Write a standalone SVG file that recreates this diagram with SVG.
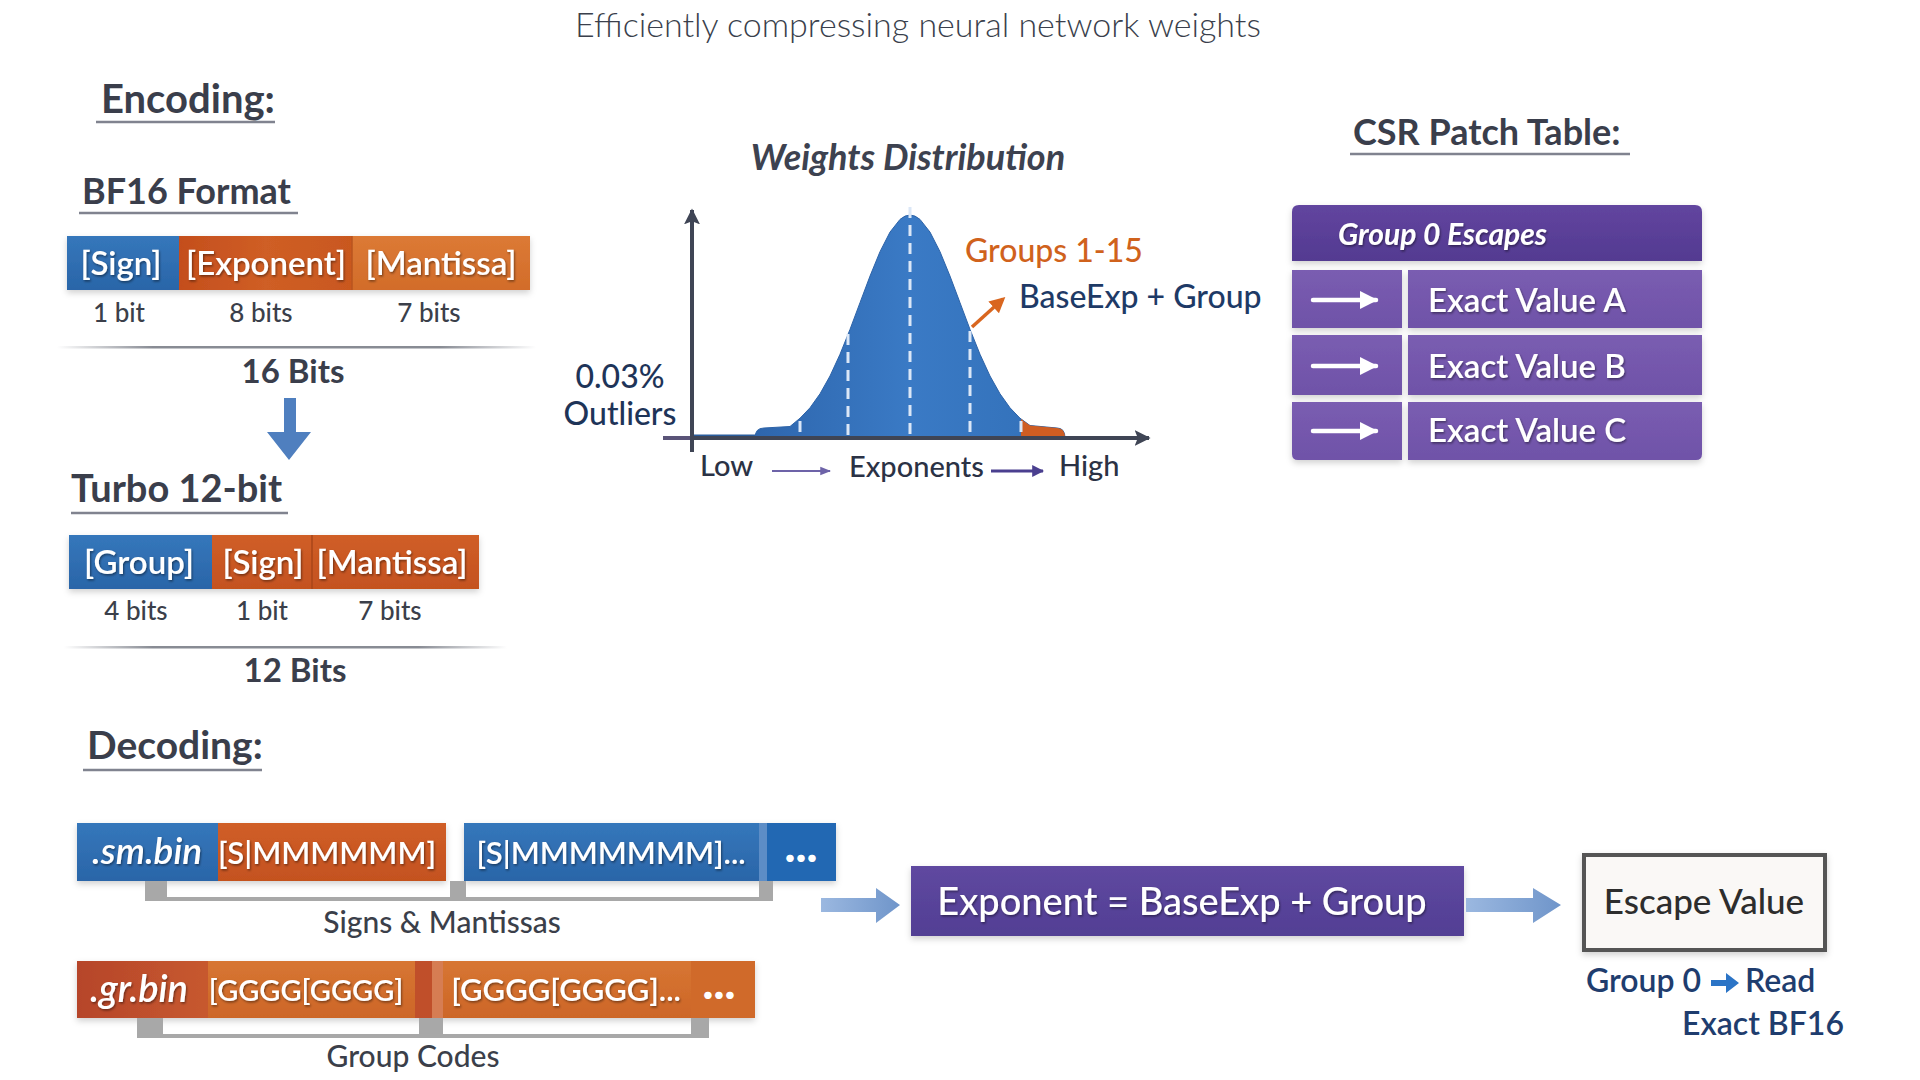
<svg xmlns="http://www.w3.org/2000/svg" width="1920" height="1080" viewBox="0 0 1920 1080">
<defs>
<style>
text{font-family:Lato,'Open Sans','Noto Sans',sans-serif}
.h{font-weight:700;fill:#3a3e4b}
.ul{stroke:#80838f;stroke-width:2.5}
.lbl{font-size:26px;font-weight:500;fill:#3b3f4a;text-anchor:middle}
.tot{font-size:33px;font-weight:700;fill:#3a3e4b;text-anchor:middle}
.bt{font-size:33px;font-weight:600;fill:#fff;text-anchor:middle;filter:url(#ts)}
.ft{font-size:31px;font-weight:600;fill:#fff;text-anchor:middle;filter:url(#ts)}
.ft.sm{font-size:29px}
.fn{font-size:37px;font-weight:600;font-style:italic;fill:#fff;filter:url(#ts)}
.fn.lg{font-size:38px}
.dots{font-size:46px;font-weight:900;fill:#fff;text-anchor:middle}
.rowt{font-size:33px;font-weight:600;fill:#fff;filter:url(#ts)}
.cap{font-size:30px;font-weight:500;fill:#3b3f4a;text-anchor:middle}
.ax{font-size:29px;font-weight:500;fill:#2b3245}
.brk{fill:#a8a8a8}
.row{fill:url(#gRow)}
.darr{fill:url(#gArr)}
</style>
<filter id="ts" x="-10%" y="-20%" width="120%" height="140%"><feDropShadow dx="1" dy="1.5" stdDeviation="0.8" flood-color="#000" flood-opacity="0.45"/></filter>
<filter id="sh" x="-5%" y="-10%" width="110%" height="130%"><feDropShadow dx="0" dy="3" stdDeviation="3" flood-color="#000" flood-opacity="0.18"/></filter>
<linearGradient id="gBlue" x1="0" y1="0" x2="0" y2="1"><stop offset="0" stop-color="#3577bb"/><stop offset="1" stop-color="#2a65a8"/></linearGradient>
<linearGradient id="gExp" x1="0" y1="0" x2="1" y2="0"><stop offset="0" stop-color="#c44e1d"/><stop offset="0.5" stop-color="#cf5e25"/><stop offset="1" stop-color="#c9581f"/></linearGradient>
<linearGradient id="gMan" x1="0" y1="0" x2="0" y2="1"><stop offset="0" stop-color="#dc7a35"/><stop offset="1" stop-color="#d26c2a"/></linearGradient>
<linearGradient id="gOr2" x1="0" y1="0" x2="0" y2="1"><stop offset="0" stop-color="#d05e27"/><stop offset="1" stop-color="#c4521f"/></linearGradient>
<linearGradient id="gGr" x1="0" y1="0" x2="0" y2="1"><stop offset="0" stop-color="#d77632"/><stop offset="1" stop-color="#cd6628"/></linearGradient>
<linearGradient id="gGrb" x1="0" y1="0" x2="1" y2="0"><stop offset="0" stop-color="#b6452b"/><stop offset="1" stop-color="#c7592e"/></linearGradient>
<linearGradient id="gRow" x1="0" y1="0" x2="0" y2="1"><stop offset="0" stop-color="#7a5db1"/><stop offset="1" stop-color="#6f52a8"/></linearGradient>
<linearGradient id="gHead" x1="0" y1="0" x2="0" y2="1"><stop offset="0" stop-color="#62459f"/><stop offset="1" stop-color="#533a91"/></linearGradient>
<linearGradient id="gExpBox" x1="0" y1="0" x2="0" y2="1"><stop offset="0" stop-color="#5f48a0"/><stop offset="1" stop-color="#523f94"/></linearGradient>
<linearGradient id="gArr" x1="0" y1="0" x2="1" y2="0"><stop offset="0" stop-color="#9bb8e0"/><stop offset="1" stop-color="#6f95ca"/></linearGradient>
<linearGradient id="gBell" x1="0" y1="0" x2="1" y2="0"><stop offset="0" stop-color="#2e66ad"/><stop offset="0.5" stop-color="#3a7ac5"/><stop offset="1" stop-color="#3270b8"/></linearGradient>
<linearGradient id="gSep" x1="0" y1="0" x2="1" y2="0"><stop offset="0" stop-color="#555a66" stop-opacity="0"/><stop offset="0.2" stop-color="#555a66" stop-opacity="0.7"/><stop offset="0.8" stop-color="#555a66" stop-opacity="0.7"/><stop offset="1" stop-color="#555a66" stop-opacity="0"/></linearGradient>
<marker id="mOr" viewBox="0 0 10 10" refX="8" refY="5" markerWidth="4.5" markerHeight="4.5" orient="auto"><path d="M0,0 L10,5 L0,10 Z" fill="#d9661f"/></marker>
<marker id="mAx" viewBox="0 0 10 10" refX="9" refY="5" markerWidth="4" markerHeight="4" orient="auto"><path d="M0,0 L10,5 L0,10 L2,5 Z" fill="#3f4555"/></marker>
<marker id="mThin" viewBox="0 0 10 10" refX="9" refY="5" markerWidth="6" markerHeight="6" orient="auto"><path d="M0,1 L10,5 L0,9 Z" fill="#6d63a8"/></marker>
<marker id="mThick" viewBox="0 0 10 10" refX="9" refY="5" markerWidth="4" markerHeight="4" orient="auto"><path d="M0,0 L10,5 L0,10 Z" fill="#4a3f8f"/></marker>
<marker id="mW" viewBox="0 0 10 10" refX="9" refY="5" markerWidth="4" markerHeight="4" orient="auto"><path d="M0,0 L10,5 L0,10 Z" fill="#fff"/></marker>
</defs>
<rect x="0" y="0" width="1920" height="1080" fill="#ffffff"/>

<text x="918" y="37" font-size="34" font-weight="300" fill="#3a3f4c" text-anchor="middle">Efficiently compressing neural network weights</text>

<!-- Encoding -->
<g id="encoding-title">
<text class="h" x="101" y="113" font-size="40">Encoding:</text>
<line class="ul" x1="96" y1="122" x2="275" y2="122"/>
</g>

<g id="bf16">
<text class="h" x="82" y="204" font-size="36">BF16 Format</text>
<line class="ul" x1="79" y1="213" x2="298" y2="213"/>
<g filter="url(#sh)">
<rect x="67" y="236" width="112" height="54" fill="url(#gBlue)"/>
<rect x="179" y="236" width="173" height="54" fill="url(#gExp)"/>
<rect x="352" y="236" width="178" height="54" fill="url(#gMan)"/>
</g>
<line x1="352" y1="236" x2="352" y2="290" stroke="#b9541f" stroke-width="1.5"/>
<text class="bt" x="121" y="275">[Sign]</text>
<text class="bt" x="266" y="275">[Exponent]</text>
<text class="bt" x="441" y="275">[Mantissa]</text>
<text class="lbl" x="119" y="322">1 bit</text>
<text class="lbl" x="261" y="322">8 bits</text>
<text class="lbl" x="429" y="322">7 bits</text>
<rect x="57" y="346" width="479" height="2.5" fill="url(#gSep)"/>
<text class="tot" x="293" y="383">16 Bits</text>
</g>

<g id="arrow-down">
<path d="M284,398 H296 V432 H311 L289,460 L267,432 H284 Z" fill="#4f7fbf"/>
</g>

<g id="turbo">
<text class="h" x="71" y="502" font-size="38">Turbo 12-bit</text>
<line class="ul" x1="71" y1="513" x2="288" y2="513"/>
<g filter="url(#sh)">
<rect x="69" y="535" width="143" height="54" fill="url(#gBlue)"/>
<rect x="212" y="535" width="100" height="54" fill="url(#gOr2)"/>
<rect x="312" y="535" width="167" height="54" fill="url(#gOr2)"/>
</g>
<line x1="312" y1="535" x2="312" y2="589" stroke="#a9461a" stroke-width="1.5"/>
<text class="bt" x="139" y="574">[Group]</text>
<text class="bt" x="263" y="574">[Sign]</text>
<text class="bt" x="392" y="574">[Mantissa]</text>
<text class="lbl" x="136" y="620">4 bits</text>
<text class="lbl" x="262" y="620">1 bit</text>
<text class="lbl" x="390" y="620">7 bits</text>
<rect x="64" y="646" width="443" height="2.5" fill="url(#gSep)"/>
<text class="tot" x="295" y="682">12 Bits</text>
</g>

<!-- Weights distribution -->
<g id="distribution">
<text x="908" y="170" font-size="36" font-weight="700" font-style="italic" fill="#3d4250" text-anchor="middle">Weights Distribution</text>
<line x1="663" y1="438" x2="692" y2="438" stroke="#5a5478" stroke-width="4"/>
<line x1="692" y1="436" x2="756" y2="436" stroke="#2a5d9c" stroke-width="3"/>
<path d="M755,438 Q755,428 764,428 L790,426.5 L800,418.2 L810,407.8 L820,393.8 L830,376 L840,354.3 L850,329.4 L860,302.7 L870,276.1 L880,251.7 L890,232.1 L900,219.4 Q910,210.7 920,219.4 L930,232.1 L940,251.7 L950,276.1 L960,302.7 L970,329.4 L980,354.3 L990,376 L1000,393.8 L1010,407.8 L1020,418.2 L1030,425.5 L1057,428 Q1065,428 1065,438 Z" fill="url(#gBell)" stroke="#2d63a8" stroke-width="1" stroke-linejoin="round"/>
<path d="M1021,438 L1021,419 L1030,425.5 L1057,428 Q1065,428 1065,438 Z" fill="#cf5d22"/>
<g stroke="#dbe7f7" stroke-width="3" stroke-dasharray="11 7" fill="none">
<line x1="910" y1="207" x2="910" y2="436"/>
<line x1="848" y1="334" x2="848" y2="436"/>
<line x1="970" y1="331" x2="970" y2="436"/>
<line x1="800" y1="421" x2="800" y2="436"/>
<line x1="1021" y1="421" x2="1021" y2="436"/>
</g>
<line x1="692" y1="452" x2="692" y2="210" stroke="#3f4555" stroke-width="4" marker-end="url(#mAx)"/>
<line x1="692" y1="438" x2="1149" y2="438" stroke="#3f4555" stroke-width="4" marker-end="url(#mAx)"/>
<line x1="972" y1="327" x2="1003" y2="299" stroke="#d9661f" stroke-width="3.5" marker-end="url(#mOr)"/>
<text x="965" y="262" font-size="32" font-weight="500" fill="#d0621c">Groups 1-15</text>
<text x="1019" y="308" font-size="32" font-weight="500" fill="#1e3a66">BaseExp + Group</text>
<text x="620" y="388" font-size="32" font-weight="500" fill="#1e3458" text-anchor="middle">0.03%</text>
<text x="620" y="425" font-size="32" font-weight="500" fill="#1e3458" text-anchor="middle">Outliers</text>
<text class="ax" x="700" y="476">Low</text>
<line x1="772" y1="471" x2="830" y2="471" stroke="#6d63a8" stroke-width="1.8" marker-end="url(#mThin)"/>
<text class="ax" x="849" y="477">Exponents</text>
<line x1="991" y1="471" x2="1043" y2="471" stroke="#4a3f8f" stroke-width="3" marker-end="url(#mThick)"/>
<text class="ax" x="1059" y="476">High</text>
</g>

<!-- CSR Patch Table -->
<g id="csr-title">
<text class="h" x="1353" y="145" font-size="36">CSR Patch Table:</text>
<line class="ul" x1="1350" y1="154" x2="1630" y2="154"/>
</g>
<g id="csr-table" filter="url(#sh)">
<path d="M1292,212 Q1292,205 1299,205 H1695 Q1702,205 1702,212 V261 H1292 Z" fill="url(#gHead)"/>
<text x="1338" y="245" font-size="30" font-weight="700" font-style="italic" fill="#fff" filter="url(#ts)">Group 0 Escapes</text>
<rect class="row" x="1292" y="270" width="110" height="58"/>
<rect class="row" x="1408" y="270" width="294" height="58"/>
<rect class="row" x="1292" y="335" width="110" height="60"/>
<rect class="row" x="1408" y="335" width="294" height="60"/>
<path class="row" d="M1292,402 H1402 V460 H1298 Q1292,460 1292,454 Z"/>
<path class="row" d="M1408,402 H1702 V454 Q1702,460 1696,460 H1408 Z"/>
<g stroke="#fff" stroke-width="4.5" stroke-linecap="round">
<line x1="1313" y1="300" x2="1376" y2="300" marker-end="url(#mW)"/>
<line x1="1313" y1="366" x2="1376" y2="366" marker-end="url(#mW)"/>
<line x1="1313" y1="431" x2="1376" y2="431" marker-end="url(#mW)"/>
</g>
<text class="rowt" x="1428" y="312">Exact Value A</text>
<text class="rowt" x="1428" y="378">Exact Value B</text>
<text class="rowt" x="1428" y="442">Exact Value C</text>
</g>

<!-- Decoding -->
<g id="decoding-title">
<text class="h" x="87" y="759" font-size="39">Decoding:</text>
<line class="ul" x1="83" y1="770" x2="262" y2="770"/>
</g>

<g id="sm-bin">
<g filter="url(#sh)">
<rect x="77" y="823" width="141" height="58" fill="url(#gBlue)"/>
<rect x="218" y="823" width="228" height="58" fill="url(#gOr2)"/>
<rect x="464" y="823" width="295" height="58" fill="url(#gBlue)"/>
<rect x="759" y="823" width="8" height="58" fill="#5d8dc6"/>
<rect x="767" y="823" width="69" height="58" fill="#2467b3"/>
</g>
<text class="fn" x="92" y="864">.sm.bin</text>
<text class="ft" x="327" y="864">[S|MMMMMM]</text>
<text class="ft" x="611" y="864">[S|MMMMMMM]...</text>
<text class="dots" x="801" y="862">...</text>
<rect class="brk" x="145" y="881" width="22" height="20"/>
<rect class="brk" x="450" y="881" width="16" height="20"/>
<rect class="brk" x="759" y="881" width="14" height="20"/>
<rect class="brk" x="145" y="897" width="628" height="4"/>
<text class="cap" x="442" y="933">Signs &amp; Mantissas</text>
</g>

<g id="gr-bin">
<g filter="url(#sh)">
<rect x="77" y="961" width="131" height="57" fill="url(#gGrb)"/>
<rect x="208" y="961" width="207" height="57" fill="url(#gGr)"/>
<rect x="415" y="961" width="17" height="57" fill="#c0502b"/>
<rect x="432" y="961" width="11" height="57" fill="#d67d52"/>
<rect x="443" y="961" width="248" height="57" fill="url(#gGr)"/>
<rect x="691" y="961" width="64" height="57" fill="#d06a2c"/>
</g>
<text class="fn lg" x="90" y="1002">.gr.bin</text>
<text class="ft sm" x="306" y="1001">[GGGG[GGGG]</text>
<text class="ft" x="566" y="1001">[GGGG[GGGG]...</text>
<text class="dots" x="719" y="999">...</text>
<rect class="brk" x="137" y="1018" width="26" height="20"/>
<rect class="brk" x="419" y="1018" width="24" height="20"/>
<rect class="brk" x="691" y="1018" width="18" height="20"/>
<rect class="brk" x="137" y="1034" width="572" height="4"/>
<text class="cap" x="413" y="1067">Group Codes</text>
</g>

<g id="exponent-box">
<rect x="911" y="866" width="553" height="70" fill="url(#gExpBox)" filter="url(#sh)"/>
<text x="1182" y="915" font-size="38" font-weight="500" fill="#fff" text-anchor="middle" filter="url(#ts)">Exponent = BaseExp + Group</text>
</g>

<g id="escape-box">
<rect x="1584" y="855" width="241" height="95" fill="#faf8f6" stroke="#555" stroke-width="4" filter="url(#sh)"/>
<text x="1704" y="914" font-size="35" font-weight="500" fill="#2d2d2d" text-anchor="middle">Escape Value</text>
<text x="1586" y="992" font-size="32" font-weight="600" fill="#1f3d6e">Group 0</text>
<path d="M1711,980 H1726 V973 L1739,983 L1726,993 V986 H1711 Z" fill="#2b74c6"/>
<text x="1745" y="992" font-size="32" font-weight="600" fill="#1f3d6e">Read</text>
<text x="1682" y="1035" font-size="32" font-weight="600" fill="#1f3d6e">Exact BF16</text>
</g>

<g id="connectors">
<path class="darr" d="M821,898 H876 V888 L900,905 L876,923 V912 H821 Z"/>
<path class="darr" d="M1466,898 H1533 V888 L1561,905 L1533,923 V912 H1466 Z"/>
</g>
</svg>
